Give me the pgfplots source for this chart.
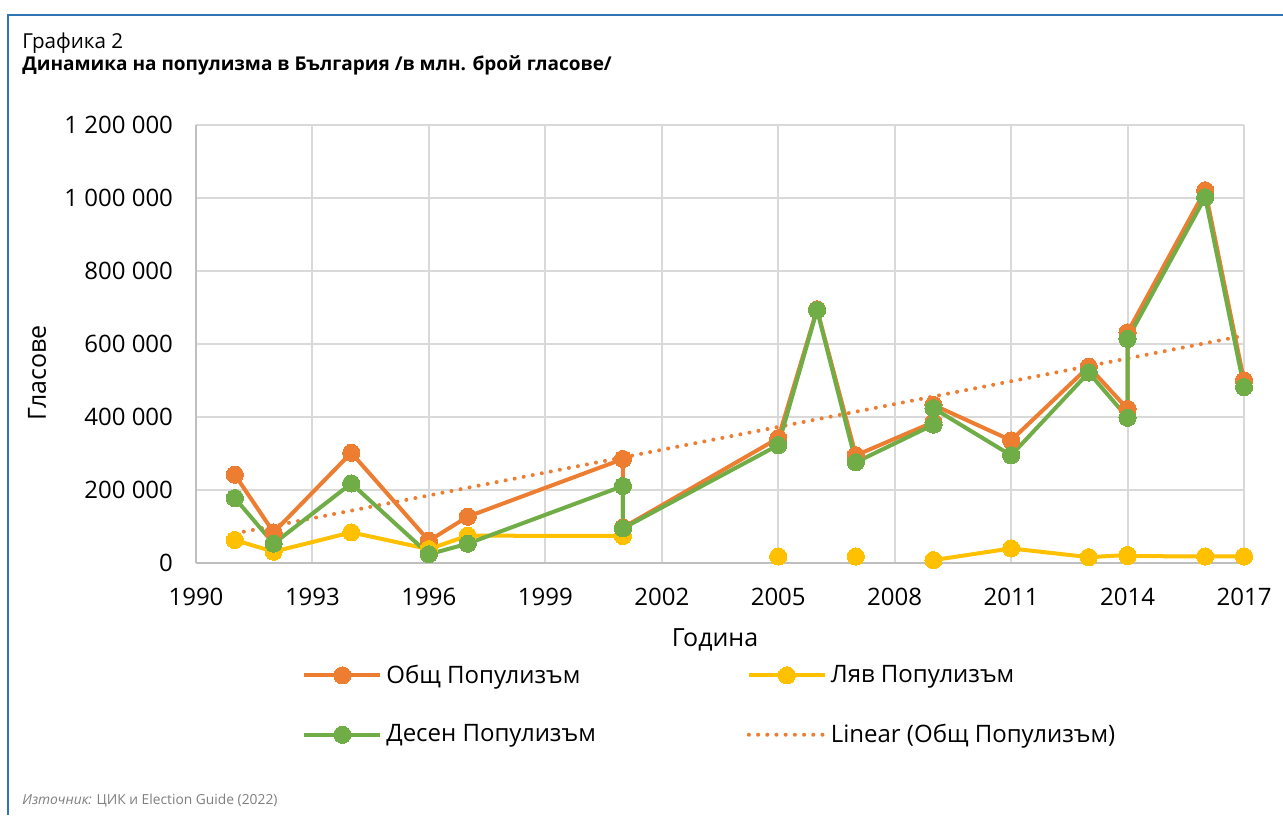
\documentclass[border=0pt]{standalone}
\usepackage{pgfplots}
\pgfplotsset{compat=1.18}
\usepackage{fontspec}
\setmainfont{Open Sans}
\definecolor{cOr}{HTML}{ED7D31}
\definecolor{cYe}{HTML}{FFC000}
\definecolor{cGr}{HTML}{70AD47}
\definecolor{cGrid}{HTML}{D9D9D9}
\definecolor{cAx}{HTML}{BFBFBF}
\definecolor{cBlue}{HTML}{2E75B6}
\definecolor{cSrc}{HTML}{7F7F7F}

\pgfplotstableread{
year val
1991 242000
1992 84000
1994 302000
1996 61000
1997 127000
2001 285000
2001 97000
2005 342000
2006 695000
2007 295000
2009 386000
2009 433000
2011 336000
2013 538000
2014 422000
2014 632000
2016 1021000
2017 500000
}\totalpop

\pgfplotstableread{
year val
1991 63000
1992 31000
1994 84000
1996 38000
1997 75000
2001 74000
2001 nan
2005 18000
2006 nan
2007 18000
2009 nan
2009 8000
2011 40000
2013 16000
2014 22000
2014 19000
2016 18000
2017 18000
}\leftpop

\pgfplotstableread{
year val
1991 178000
1992 53000
1994 218000
1996 24000
1997 53000
2001 211000
2001 95000
2005 323000
2006 693000
2007 276000
2009 379000
2009 424000
2011 295000
2013 522000
2014 398000
2014 614000
2016 1002000
2017 482000
}\rightpop

\pgfplotstableread{
year val
1991 81000
2017 623000
}\trendpop

\begin{document}
\begin{tikzpicture}
\begin{scope}[x=0.5pt,y=-0.5pt]
\useasboundingbox (0,0) rectangle (1283,815);
\fill[white] (0,0) rectangle (1283,815);
\draw[cBlue, line width=1pt] (8,815) -- (8,15) -- (1283,15);
\node[anchor=base west, inner sep=0pt, font=\fontsize{10.3}{12}\selectfont] at (22,48) {Графика 2};
\node[anchor=base west, inner sep=0pt, font=\fontsize{9.5}{11}\selectfont\bfseries] at (22,70) {Динамика на популизма в България /в млн. брой гласове/};
\node[anchor=base west, inner sep=0pt, font=\fontsize{6.9}{8}\selectfont, text=cSrc] at (22,804) {\textit{Източник:} ЦИК и Election Guide (2022)};
\node[font=\fontsize{12.5}{14}\selectfont] at (715,640) {Година};
\node[rotate=90, font=\fontsize{12.5}{14}\selectfont] at (37,373) {Гласове};
\end{scope}
\begin{axis}[
  at={(98pt,-281.5pt)}, anchor=south west,
  scale only axis, width=524pt, height=219pt,
  xmin=1990, xmax=2017, ymin=0, ymax=1200000,
  xtick={1990,1993,1996,1999,2002,2005,2008,2011,2014,2017},
  xticklabels={1990,1993,1996,1999,2002,2005,2008,2011,2014,2017},
  ytick={0,200000,400000,600000,800000,1000000,1200000},
  yticklabels={0,200 000,400 000,600 000,800 000,1 000 000,1 200 000},
  scaled y ticks=false,
  axis x line*=bottom, axis y line*=left,
  axis line style={cAx, line width=1.2pt, -},
  major tick length=0pt,
  grid=major,
  grid style={cGrid, line width=1pt},
  tick label style={font=\fontsize{12}{14}\selectfont},
  xticklabel style={yshift=-9pt},
  yticklabel style={xshift=-8pt},
  unbounded coords=jump,
  clip=false,
  legend columns=2,
  legend cell align=left,
  legend style={at={(0.1011,-0.222)}, anchor=north west, draw=none, fill=none,
    inner sep=0pt, font=\fontsize{12}{14}\selectfont, row sep=15pt,
    /tikz/every even column/.append style={column sep=73.5pt}},
  legend image code/.code={\draw[mark repeat=2,mark phase=2,#1] plot coordinates {(0pt,0pt) (19pt,0pt) (38pt,0pt)};},
]
\addplot[cOr, line width=2pt, line cap=round, dash pattern=on 0pt off 4.6pt, no marks, forget plot] table[x=year,y=val] {\trendpop};
\addplot[cOr, line width=2pt, mark=*, mark size=4.3pt, mark options={fill=cOr, draw=cOr, line width=0pt}] table[x=year,y=val] {\totalpop};
\addlegendentry{Общ Популизъм}
\addplot[cYe, line width=2pt, mark=*, mark size=4.3pt, mark options={fill=cYe, draw=cYe, line width=0pt}] table[x=year,y=val] {\leftpop};
\addlegendentry{Ляв Популизъм}
\addplot[cGr, line width=2pt, mark=*, mark size=4.3pt, mark options={fill=cGr, draw=cGr, line width=0pt}] table[x=year,y=val] {\rightpop};
\addlegendentry{Десен Популизъм}
\addlegendimage{cOr, line width=2pt, line cap=round, dash pattern=on 0pt off 4.6pt, no marks}
\addlegendentry{Linear (Общ Популизъм)}
\end{axis}
\end{tikzpicture}
\end{document}
